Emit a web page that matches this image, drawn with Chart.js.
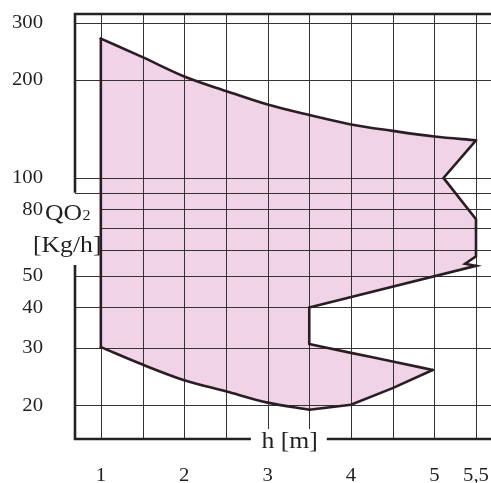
<!DOCTYPE html>
<html>
<head>
<meta charset="utf-8">
<script src="https://cdn.jsdelivr.net/npm/chart.js@4/dist/chart.umd.min.js"></script>
<style>
html,body{margin:0;padding:0;background:#fff;overflow:hidden;}
canvas{display:block;}
#fp{position:absolute;left:-1000px;top:0;font-family:"Liberation Serif";font-size:18px;}
</style>
</head>
<body>
<div id="fp">0123 QO Kg h m</div>
<canvas id="c" width="491" height="483"></canvas>
<script>
// ---- data (h [m], QO2 [Kg/h]) ----
const hTop = [1, 1.5, 2, 2.5, 3, 3.5, 4, 4.5, 5, 5.5];
const qTop = [268, 235, 205, 185, 168, 156, 146, 139.5, 134, 130.5];
const hRight = [5.11, 5.5, 5.5, 5.37, 5.5];
const qRight = [100, 74.7, 57.4, 54.5, 53.7];
const hNotch = [3.5, 3.5, 4, 4.5, 4.98];
const qNotch = [40, 30.9, 29, 27.3, 25.7];
const hBottomR = [4.5, 4, 3.5];
const qBottomR = [22.6, 20.1, 19.4];
const hBottomL = [1, 1.5, 2, 2.5, 3, 3.5];
const qBottomL = [30.2, 26.7, 23.9, 22.1, 20.4, 19.4];

const xTickValues = [1, 2, 3, 4, 5, 5.5];
const xTickLabels = ['1', '2', '3', '4', '5', '5,5'];
const xGridValues = [1, 1.5, 2, 2.5, 3, 3.5, 4, 4.5, 5, 5.5];
const yTickValues = [300, 200, 100, 80, 50, 40, 30, 20];
const yTickLabels = ['300', '200', '100', '80', '50', '40', '30', '20'];
const yGridValues = [300, 200, 100, 90, 80, 70, 60, 50, 40, 30, 20];
const yGridShort = [80, 70, 60];

const xTitle = 'h [m]';
const yTitle1 = 'QO';
const yTitleSub = '2';
const yTitle2 = '[Kg/h]';

function pts(h, q) { return h.map((v, i) => ({x: v, y: q[i]})); }
const topPts = pts(hTop, qTop);
const rightPts = pts(hRight, qRight);
const notchPts = pts(hNotch, qNotch);
const botRPts = pts(hBottomR, qBottomR);
const botLPts = pts(hBottomL, qBottomL);
const polygon = [].concat(topPts, rightPts, notchPts, botRPts, botLPts.slice().reverse().slice(1), [topPts[0]]);

const INK = '#231f20';
const LINE = '#2b1d24';
const SERIF = '"Liberation Serif", "Times New Roman", Times, serif';

function txt(ctx, s, x, y, size, align, base, sx) {
  ctx.save();
  ctx.translate(x, y);
  ctx.scale(sx, 1);
  ctx.font = size + 'px ' + SERIF;
  ctx.textAlign = align;
  ctx.textBaseline = base;
  ctx.fillStyle = INK;
  ctx.fillText(s, 0, 0);
  ctx.restore();
}

const gridPlugin = {
  id: 'gridPlugin',
  afterDatasetDraw(chart, args) {
    if (args.index !== 0) return;
    const ctx = chart.ctx, ca = chart.chartArea;
    const xs = chart.scales.x, ys = chart.scales.y;
    ctx.save();
    ctx.strokeStyle = '#333';
    ctx.lineWidth = 1;
    ctx.beginPath();
    xGridValues.forEach(v => {
      const px = Math.round(xs.getPixelForValue(v)) + 0.5;
      ctx.moveTo(px, ca.top);
      ctx.lineTo(px, ca.bottom);
    });
    yGridValues.forEach(v => {
      const py = Math.round(ys.getPixelForValue(v)) + 0.5;
      const x0 = yGridShort.includes(v) ? xs.getPixelForValue(1) : ca.left;
      ctx.moveTo(x0, py);
      ctx.lineTo(ca.right, py);
    });
    ctx.stroke();
    ctx.restore();
  },
  afterDraw(chart) {
    const ctx = chart.ctx, ca = chart.chartArea;
    const xs = chart.scales.x, ys = chart.scales.y;
    const gapL = xs.getPixelForValue(2.8), gapR = xs.getPixelForValue(3.71);
    ctx.save();
    ctx.fillStyle = '#fff';
    ctx.fillRect(gapL, ca.bottom - 10, gapR - gapL, 30);
    ctx.strokeStyle = '#222';
    ctx.lineWidth = 2.6;
    ctx.lineCap = 'butt';
    ctx.beginPath();
    ctx.moveTo(ca.left - 1.3, ca.top);
    ctx.lineTo(ca.right, ca.top);
    ctx.moveTo(ca.left, ca.top);
    ctx.lineTo(ca.left, ys.getPixelForValue(90));
    ctx.moveTo(ca.left, ys.getPixelForValue(54));
    ctx.lineTo(ca.left, ca.bottom + 1.3);
    ctx.moveTo(ca.left - 1.3, ca.bottom);
    ctx.lineTo(gapL, ca.bottom);
    ctx.moveTo(gapR, ca.bottom);
    ctx.lineTo(ca.right, ca.bottom);
    ctx.stroke();
    ctx.restore();
    yTickValues.forEach((v, i) => {
      txt(ctx, yTickLabels[i], 43, ys.getPixelForValue(v) + 0.5, 18, 'right', 'middle', 1.15);
    });
    xTickValues.forEach((v, i) => {
      txt(ctx, xTickLabels[i], xs.getPixelForValue(v), 476, 18, 'center', 'middle', 1.15);
    });
    ctx.save();
    ctx.font = '24px ' + SERIF;
    const w1 = ctx.measureText(yTitle1).width * 1.07;
    ctx.restore();
    txt(ctx, yTitle1, 45, 220, 24, 'left', 'alphabetic', 1.07);
    txt(ctx, yTitleSub, 45 + w1 + 0.5, 220, 15, 'left', 'alphabetic', 1.07);
    txt(ctx, yTitle2, 33, 251.5, 24, 'left', 'alphabetic', 1.07);
    txt(ctx, xTitle, 261.5, 447.5, 24, 'left', 'alphabetic', 1.07);
  }
};

function lineDs(data, curved) {
  return {
    data: data,
    showLine: true,
    fill: false,
    borderColor: LINE,
    borderWidth: 2.6,
    borderJoinStyle: 'miter',
    borderCapStyle: 'round',
    pointRadius: 0,
    cubicInterpolationMode: curved ? 'monotone' : 'default',
    tension: 0,
    order: 1
  };
}

function build() {
  new Chart(document.getElementById('c'), {
    type: 'scatter',
    data: {
      datasets: [
        {
          data: polygon,
          showLine: true,
          fill: 'shape',
          backgroundColor: 'rgb(240,211,230)',
          borderColor: 'rgba(0,0,0,0)',
          borderWidth: 0,
          pointRadius: 0,
          tension: 0,
          order: 2
        },
        lineDs(topPts, true),
        lineDs([topPts[topPts.length - 1]].concat(rightPts, [notchPts[0], notchPts[1]]), false),
        lineDs(notchPts.slice(1), true),
        lineDs([notchPts[notchPts.length - 1]].concat(botRPts), false),
        lineDs(botLPts, true),
        lineDs([botLPts[0], topPts[0]], false)
      ]
    },
    options: {
      responsive: false,
      animation: false,
      layout: {padding: {left: 75, top: 14, right: 0, bottom: 44}},
      plugins: {legend: {display: false}, tooltip: {enabled: false}},
      scales: {
        x: {type: 'linear', min: 0.69, max: 5.68, display: false},
        y: {type: 'logarithmic', min: 15.77, max: 318.9, display: false}
      }
    },
    plugins: [gridPlugin]
  });
}

if (document.fonts && document.fonts.load) {
  Promise.all([
    document.fonts.load('18px "Liberation Serif"'),
    document.fonts.load('24px "Liberation Serif"')
  ]).then(build, build);
} else {
  build();
}
</script>
</body>
</html>
